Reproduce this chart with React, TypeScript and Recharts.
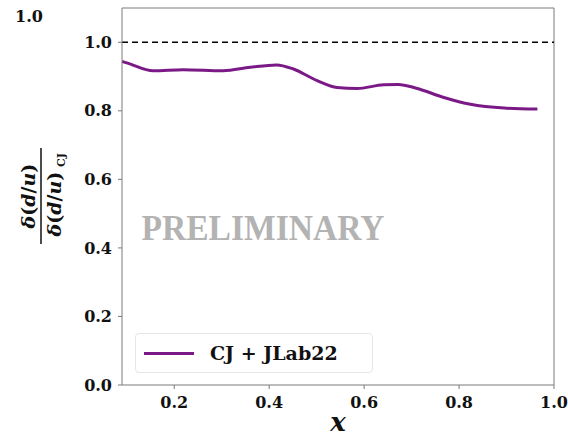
import React from "react";
import { LineChart, Line, XAxis, YAxis, ReferenceLine } from "recharts";

const xValues = [0.09, 0.1, 0.156, 0.219, 0.303, 0.36, 0.416, 0.451, 0.501, 0.543, 0.585, 0.641, 0.672, 0.71, 0.768, 0.824, 0.895, 0.965];
const ratioValues = [0.944, 0.94, 0.917, 0.92, 0.917, 0.927, 0.934, 0.922, 0.888, 0.868, 0.865, 0.876, 0.877, 0.866, 0.839, 0.819, 0.808, 0.805];
const xTicks = [0.2, 0.4, 0.6, 0.8, 1.0];
const yTicks = [0, 0.2, 0.4, 0.6, 0.8, 1.0];
const seriesName = "CJ + JLab22";

const data = xValues.map((x, i) => ({ x, r: ratioValues[i] }));

const FONT = "DejaVu Serif, Liberation Serif, serif";
const FRAME = "#7a7a7a";
const PURPLE = "#7b1a87";

export default function App() {
  return (
    <div style={{ position: "absolute", left: 0, top: 0, width: 568, height: 439, background: "white" }}>
      <LineChart width={568} height={439} data={data} margin={{ top: 8, right: 14, bottom: 24, left: 62 }}>
        <XAxis
          dataKey="x"
          type="number"
          domain={[0.09, 1.0]}
          ticks={xTicks}
          tickFormatter={(v: number) => v.toFixed(1)}
          stroke={FRAME}
          tickSize={4}
          height={30}
          tick={{ fill: "#111", fontFamily: FONT, fontWeight: "bold", fontSize: 16, dy: 6 }}
          allowDataOverflow
        />
        <YAxis
          type="number"
          domain={[0, 1.1]}
          ticks={yTicks}
          tickFormatter={(v: number) => v.toFixed(1)}
          stroke={FRAME}
          tickSize={4}
          width={60}
          tick={{ fill: "#111", fontFamily: FONT, fontWeight: "bold", fontSize: 16, dx: -4 }}
          allowDataOverflow
        />
        <ReferenceLine y={1.1} stroke={FRAME} strokeWidth={1} ifOverflow="extendDomain" />
        <ReferenceLine x={1.0} stroke={FRAME} strokeWidth={1} ifOverflow="extendDomain" />
        <ReferenceLine y={1} stroke="#000" strokeWidth={1.6} strokeDasharray="6 4" />
        <Line
          type="monotone"
          dataKey="r"
          name={seriesName}
          stroke={PURPLE}
          strokeWidth={3}
          dot={false}
          isAnimationActive={false}
        />
        <text x={263} y={240} textAnchor="middle" fill="#b3b3b3" fontFamily="Liberation Serif, serif" fontWeight="bold" fontSize={36} textLength={243} lengthAdjust="spacingAndGlyphs">
          PRELIMINARY
        </text>
        <text x={338} y={431} textAnchor="middle" fill="#111" fontFamily={FONT} fontWeight="bold" fontStyle="italic" fontSize={26}>
          x
        </text>
        <text x={29} y={22} textAnchor="middle" fill="#111" fontFamily={FONT} fontWeight="bold" fontSize={16}>
          1.0
        </text>
        <g transform="translate(41,196) rotate(-90)">
          <text x={0} y={-6} textAnchor="middle" fill="#111" fontFamily={FONT} fontWeight="bold" fontSize={19}>
            <tspan fontStyle="italic">δ</tspan>(<tspan fontStyle="italic">d</tspan>/<tspan fontStyle="italic">u</tspan>)
          </text>
          <line x1={-48} x2={48} y1={0} y2={0} stroke="#111" strokeWidth={1.5} />
          <text x={-8} y={20} textAnchor="middle" fill="#111" fontFamily={FONT} fontWeight="bold" fontSize={19}>
            <tspan fontStyle="italic">δ</tspan>(<tspan fontStyle="italic">d</tspan>/<tspan fontStyle="italic">u</tspan>)
          </text>
          <text x={36} y={24} textAnchor="middle" fill="#111" fontFamily={FONT} fontWeight="bold" fontSize={11}>
            CJ
          </text>
        </g>
      </LineChart>
      <div
        style={{
          position: "absolute",
          left: 135,
          top: 333,
          width: 238,
          height: 40,
          border: "1px solid #e6e6e6",
          borderRadius: 4,
          background: "white",
          display: "flex",
          alignItems: "center",
          boxSizing: "border-box",
          fontFamily: FONT,
          fontWeight: "bold",
          fontSize: 19,
          color: "#111",
        }}
      >
        <div style={{ width: 50, height: 3, background: PURPLE, marginLeft: 8, marginRight: 16 }} />
        <span>{seriesName}</span>
      </div>
    </div>
  );
}
